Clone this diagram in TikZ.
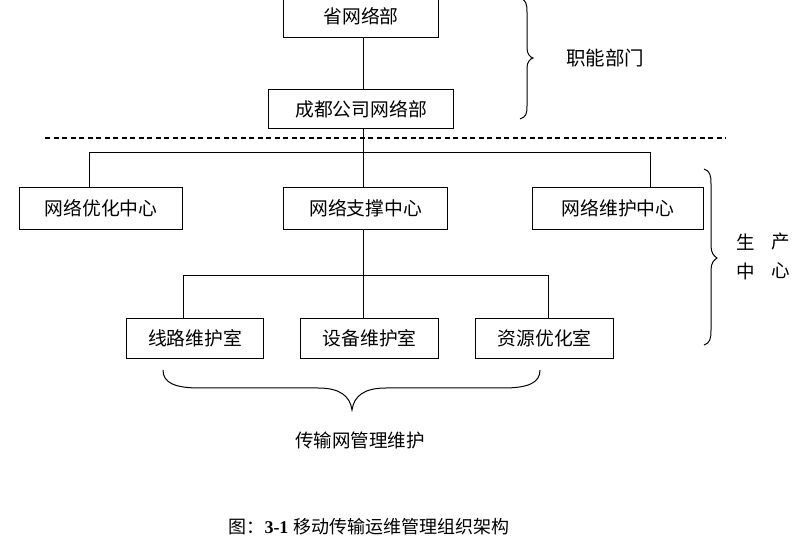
\documentclass[tikz,border=0pt]{standalone}
\usepackage{fontspec}
\setmainfont{Liberation Serif}
\newfontfamily\cjk{Noto Sans CJK SC}[Scale=1]
\begin{document}
\begin{tikzpicture}[x=1pt,y=-1pt,
  box/.style={draw,line width=1.3pt,inner sep=0pt,anchor=north west,font=\cjk\fontsize{18.8}{20}\selectfont},
  conn/.style={line width=0.9pt},
  lbl/.style={inner sep=0pt,font=\cjk\fontsize{18.5}{20}\selectfont}]
\useasboundingbox (0,0) rectangle (804,537);
% top
\node[box,minimum width=155pt,minimum height=42pt] (prov) at (283,-5) {\raisebox{-4pt}{省网络部}};
\node[box,minimum width=185pt,minimum height=39pt] (cd) at (268,89) {成都公司网络部};
% row 2
\node[box,minimum width=163pt,minimum height=42pt] (opt) at (19,187) {网络优化中心};
\node[box,minimum width=164pt,minimum height=42pt] (sup) at (283,187) {网络支撑中心};
\node[box,minimum width=171pt,minimum height=42pt] (mnt) at (532,187) {网络维护中心};
% row 3
\node[box,minimum width=137pt,minimum height=40pt] (line) at (126,318) {线路维护室};
\node[box,minimum width=138pt,minimum height=40pt] (dev) at (300,318) {设备维护室};
\node[box,minimum width=138pt,minimum height=40pt] (res) at (475,318) {资源优化室};
% connectors
\coordinate (v1) at (363,0);
\draw[conn] (v1 |- prov.south) -- (v1 |- cd.north);
\draw[conn] (v1 |- cd.south) -- (v1 |- sup.north);
\coordinate (b1) at (89,152);
\coordinate (b2) at (650,152);
\draw[conn] (b1 |- opt.north) -- (b1) -- (b2) -- (b2 |- mnt.north);
\draw[conn] (v1 |- sup.south) -- (v1 |- dev.north);
\coordinate (c1) at (183,275);
\coordinate (c2) at (548,275);
\draw[conn] (c1 |- line.north) -- (c1) -- (c2) -- (c2 |- res.north);
% dashed separator
\coordinate (d1) at (45,138);
\coordinate (d2) at (726,138);
\draw[line width=1.3pt,dash pattern=on 5pt off 3.5pt] (d1) -- (d2);
% brace 1 (functional departments)
\draw[line width=1pt] (520,-2) .. controls (526,0) and (527,4) .. (527,12) -- (527,48)
  .. controls (527,54) and (530,57) .. (533,58)
  .. controls (530,59) and (527,62) .. (527,68) -- (527,106)
  .. controls (527,114) and (526,117) .. (520,119);
\node[lbl,font=\cjk\fontsize{19.5}{20}\selectfont] (fn) at (605,58) {职能部门};
% brace 2 (production centre)
\draw[line width=1pt] (704,169) .. controls (710,171) and (711,175) .. (711,184) -- (711,246)
  .. controls (711,253) and (714,256) .. (717,258)
  .. controls (714,260) and (711,263) .. (711,270) -- (711,330)
  .. controls (711,339) and (710,343) .. (704,345);
\node[lbl] (s1) at (746,242) {生};
\node[lbl] (s2) at (781,242) {产};
\node[lbl] (s3) at (746,271) {中};
\node[lbl] (s4) at (781,271) {心};
% bottom brace
\draw[line width=1pt] (163,370) .. controls (163,383) and (175,388) .. (200,388) -- (318,388)
  .. controls (340,388) and (350,396) .. (352,410)
  .. controls (354,396) and (364,388) .. (386,388) -- (503,388)
  .. controls (528,388) and (540,383) .. (540,370);
\node[lbl] (tr) at (360,440) {传输网管理维护};
% caption
\node[inner sep=0pt,font=\cjk\fontsize{18}{20}\selectfont] (cap) at (369,527) {图：{\rmfamily\bfseries 3-1}\hspace{5pt}移动传输运维管理组织架构};
\end{tikzpicture}
\end{document}
